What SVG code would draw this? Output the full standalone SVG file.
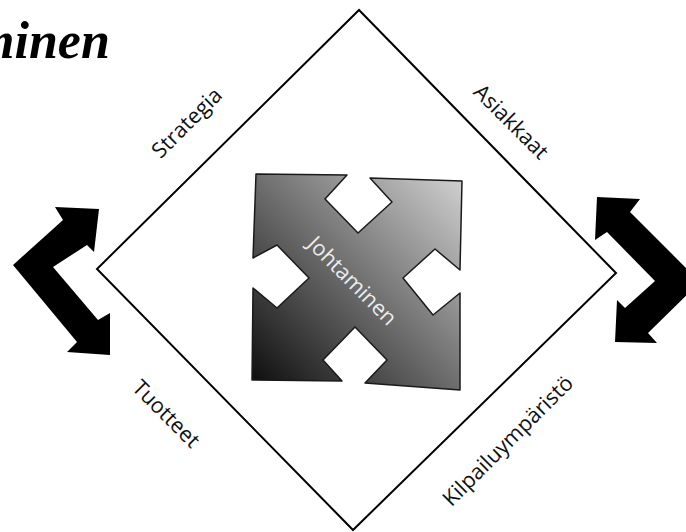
<svg xmlns="http://www.w3.org/2000/svg" width="686" height="532" viewBox="0 0 686 532">
  <defs>
    <linearGradient id="crossFill" x1="0" y1="1" x2="1" y2="0">
      <stop offset="0" stop-color="#0a0a0a"/>
      <stop offset="1" stop-color="#d2d2d2"/>
    </linearGradient>
  </defs>
  <style>
    .label { font-family: "Open Sans", "Liberation Sans", sans-serif; font-size: 21.5px; fill: #111; }
    .center-label { font-family: "Open Sans", "Liberation Sans", sans-serif; font-size: 21.5px; fill: #ececec; }
    .title { font-family: "Liberation Serif", serif; font-weight: bold; font-style: italic; font-size: 52px; fill: #000; }
    .bent { fill: #000; }
  </style>

  <rect width="686" height="532" fill="#fff"/>

  <!-- heading, running off the left edge -->
  <text class="title" x="-26" y="58">minen</text>

  <!-- frame diamond -->
  <g id="frame">
    <polygon points="359,10 616,273 353,530 97,269" fill="#fff" stroke="#000" stroke-width="2"/>
  </g>

  <!-- edge labels -->
  <g id="strategia">
    <text class="label" x="186" y="122" text-anchor="middle" dominant-baseline="central" transform="rotate(-45 186 122)">Strategia</text>
  </g>
  <g id="asiakkaat">
    <text class="label" x="512" y="121" text-anchor="middle" dominant-baseline="central" transform="rotate(45 512 121)">Asiakkaat</text>
  </g>
  <g id="tuotteet">
    <text class="label" x="167" y="413" text-anchor="middle" dominant-baseline="central" transform="rotate(45 167 413)">Tuotteet</text>
  </g>
  <g id="kilpailuymparisto">
    <text class="label" x="507" y="440" text-anchor="middle" dominant-baseline="central" transform="rotate(-45 507 440)">Kilpailuympäristö</text>
  </g>

  <!-- central four-way arrow block -->
  <g id="johtaminen">
    <polygon fill="url(#crossFill)" stroke="#1a1a1a" stroke-width="1.5" stroke-linejoin="round"
      points="256,174 347,175 325,199 358,233 392,202 370,178 462,181
              460,270 435,249 403,278 433,315 460,293 460,390
              365,383 387,360 355,327 323,360 342,381 252,380
              253,288 277,308 309,278 277,245 253,258"/>
    <text class="center-label" x="353" y="280" text-anchor="middle" dominant-baseline="central" transform="rotate(45 353 280)">Johtaminen</text>
  </g>

  <!-- bent double arrows on both sides -->
  <g id="connectors">
    <polygon class="bent" points="13,265 63,220 55,207 99,209 94,252 87,245 53,267 98,320 110,313 110,355 67,352 77,342"/>
    <polygon class="bent" points="597,197 640,199 630,212 700,282 648,333 657,343 615,342 617,300 625,308 655,281 607,232 595,240"/>
  </g>
</svg>
